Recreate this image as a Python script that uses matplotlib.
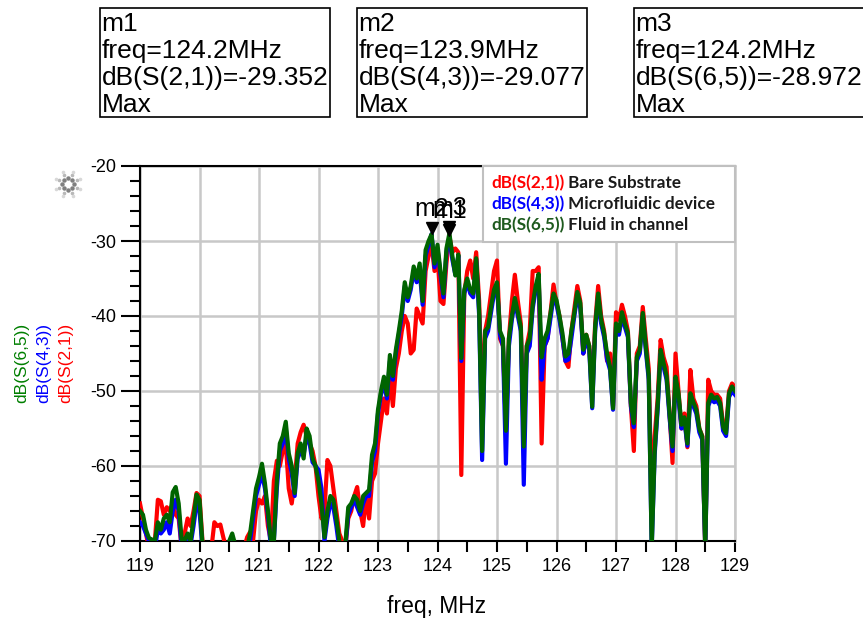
import numpy as np
import matplotlib
matplotlib.use("Agg")
import matplotlib.pyplot as plt
from matplotlib.patches import Rectangle
import matplotlib.transforms as mtransforms

plt.rcParams['font.family'] = ['Liberation Sans', 'DejaVu Sans']

# frequency axis (MHz), 0.05 MHz steps
freq = np.round(np.arange(119.0, 129.0001, 0.05), 2)

# dB(S(2,1)) Bare Substrate
s21 = [
    -65.0, -67.0, -69.0, -71.0, -71.0, -70.0, -64.5, -64.7, -66.5, -65.5,
    -66.0, -65.0, -66.5, -67.0, -71.0, -69.0, -67.0, -68.0, -66.0, -63.6,
    -64.0, -70.0, -71.0, -71.0, -71.0, -67.5, -68.0, -67.8, -69.5, -71.0,
    -71.0, -71.0, -71.0, -71.0, -71.0, -71.0, -69.5, -68.8, -70.0, -66.0,
    -64.5, -65.0, -64.0, -68.0, -70.0, -62.0, -59.3, -60.0, -58.0, -57.0,
    -63.0, -65.0, -62.0, -57.0, -55.5, -54.5, -56.0, -57.0, -58.0, -60.0,
    -64.0, -67.0, -66.0, -59.2, -60.0, -63.0, -66.0, -69.0, -70.0, -71.0,
    -67.0, -66.0, -64.0, -62.8, -66.0, -68.0, -64.0, -67.0, -62.0, -61.0,
    -57.0, -54.0, -51.0, -53.0, -48.0, -52.0, -47.0, -45.0, -42.0, -40.0,
    -41.0, -45.0, -44.5, -39.0, -40.0, -41.0, -34.0, -32.0, -30.5, -34.0,
    -32.0, -38.0, -38.4, -33.0, -29.352, -31.5, -31.0, -31.5, -61.2, -37.0,
    -34.0, -32.6, -35.0, -31.5, -38.0, -52.0, -42.0, -40.0, -37.0, -34.0,
    -32.6, -43.0, -44.0, -55.0, -43.0, -38.0, -34.5, -38.0, -41.0, -55.0,
    -44.0, -42.0, -34.0, -34.0, -33.5, -57.0, -44.0, -43.0, -39.5, -35.8,
    -38.3, -40.0, -43.0, -46.0, -46.8, -42.0, -39.0, -36.0, -38.0, -45.0,
    -42.5, -44.0, -50.0, -41.0, -36.0, -40.0, -42.0, -46.0, -45.0, -52.0,
    -39.5, -40.5, -38.5, -40.0, -42.0, -52.0, -58.0, -45.0, -44.0, -38.8,
    -43.0, -47.0, -65.0, -56.0, -51.0, -43.2, -45.5, -46.8, -53.0, -59.6,
    -45.0, -50.0, -55.0, -53.0, -57.5, -47.2, -51.0, -52.0, -55.0, -56.0,
    -71.0, -48.5, -50.0, -50.5, -50.5, -51.0, -54.5, -55.0, -50.0, -49.0,
    -49.5,
]

# dB(S(4,3)) Microfluidic device
s43 = [
    -67.5, -68.0, -69.0, -70.0, -71.0, -71.0, -68.5, -69.0, -68.5, -67.5,
    -69.0, -66.0, -64.5, -66.0, -71.0, -71.0, -70.0, -70.5, -68.0, -65.0,
    -66.0, -71.0, -71.0, -71.0, -71.0, -71.0, -71.0, -71.0, -71.0, -71.0,
    -71.0, -70.0, -71.0, -71.0, -71.0, -71.0, -71.0, -70.0, -67.0, -64.0,
    -62.5, -61.0, -63.0, -66.5, -71.0, -70.0, -63.0, -58.0, -57.0, -55.0,
    -59.0, -61.0, -64.0, -59.0, -58.0, -58.5, -56.0, -57.0, -59.5, -60.0,
    -60.5, -63.0, -70.0, -67.0, -65.0, -65.5, -68.0, -71.0, -71.0, -71.0,
    -66.5, -65.5, -64.5, -65.5, -66.5, -65.0, -64.0, -64.0, -59.5, -58.0,
    -53.0, -50.5, -49.0, -51.0, -46.0, -48.5, -45.0, -42.5, -40.0, -36.0,
    -38.0, -36.5, -34.0, -35.5, -34.0, -38.5, -32.0, -30.5, -29.077, -33.5,
    -31.0, -34.5, -37.5, -31.5, -29.5, -32.5, -34.5, -32.0, -46.0, -37.0,
    -35.5, -37.0, -37.5, -32.5, -40.0, -59.2, -43.0, -42.0, -39.5, -37.0,
    -36.0, -42.5, -44.0, -59.7, -44.0, -40.5, -38.0, -40.0, -42.0, -62.5,
    -45.0, -44.0, -39.0, -36.5, -35.0, -48.5, -44.0, -43.0, -40.2, -37.5,
    -38.4, -40.5, -43.0, -46.0, -45.8, -43.0, -40.0, -37.3, -39.0, -45.0,
    -43.0, -44.5, -52.3, -42.0, -37.5, -41.0, -42.8, -45.8, -47.2, -52.5,
    -41.5, -42.5, -40.0, -41.5, -42.8, -52.0, -54.8, -46.0, -45.0, -40.0,
    -44.5, -48.5, -71.0, -58.5, -52.5, -45.0, -46.8, -48.5, -53.5, -58.0,
    -48.5, -51.0, -55.0, -54.0, -57.3, -50.8, -52.0, -53.0, -55.5, -56.5,
    -71.0, -52.0, -51.0, -51.5, -51.3, -52.0, -55.3, -56.0, -50.8, -50.0,
    -50.5,
]

# dB(S(6,5)) Fluid in channel
s65 = [
    -66.0, -66.5, -68.5, -69.6, -69.8, -70.0, -67.5, -68.5, -67.0, -66.5,
    -67.5, -63.5, -62.8, -65.0, -69.8, -69.9, -69.0, -70.0, -67.0, -63.8,
    -64.5, -70.5, -71.0, -71.0, -71.0, -71.0, -71.0, -71.0, -71.0, -71.0,
    -70.0, -69.0, -70.5, -71.0, -71.0, -71.0, -71.0, -69.0, -66.0, -63.0,
    -61.5, -59.7, -62.3, -66.0, -70.0, -70.0, -62.0, -57.0, -56.0, -54.1,
    -58.3, -60.0, -63.6, -58.3, -57.0, -59.0, -55.0, -56.0, -59.0, -60.0,
    -62.0, -65.0, -69.5, -66.0, -64.0, -64.5, -67.0, -70.0, -71.0, -70.5,
    -65.5, -65.0, -64.0, -64.5, -66.0, -64.0, -63.6, -63.2, -58.5, -57.0,
    -52.5, -50.0, -48.1, -50.5, -45.2, -48.0, -44.5, -42.0, -39.3, -35.5,
    -37.5, -36.0, -33.4, -35.0, -33.0, -38.0, -31.2, -30.0, -29.1, -33.0,
    -30.5, -34.0, -37.0, -31.0, -28.972, -32.0, -34.6, -31.8, -45.6, -36.5,
    -35.0, -36.5, -37.0, -32.3, -39.3, -58.0, -42.0, -41.5, -38.8, -36.5,
    -35.5, -42.0, -43.0, -55.3, -43.0, -40.0, -37.6, -39.5, -41.5, -57.4,
    -44.0, -43.0, -38.5, -36.0, -34.4, -45.5, -43.0, -42.0, -39.6, -37.0,
    -37.9, -40.0, -42.3, -45.4, -45.0, -42.0, -39.6, -36.8, -38.3, -44.5,
    -42.5, -44.0, -52.1, -41.4, -37.0, -40.5, -42.3, -45.0, -46.8, -52.3,
    -41.0, -42.0, -39.5, -41.0, -42.3, -51.6, -54.3, -45.5, -44.5, -39.6,
    -44.0, -48.0, -71.0, -58.0, -52.0, -44.5, -46.3, -48.0, -53.0, -57.4,
    -48.1, -50.3, -54.5, -53.5, -57.0, -50.3, -51.5, -52.5, -55.0, -56.1,
    -71.0, -51.6, -50.5, -51.0, -50.8, -51.6, -54.8, -55.6, -50.3, -49.4,
    -50.0,
]

series_names = ['dB(S(2,1))', 'dB(S(4,3))', 'dB(S(6,5))']
series_desc = ['Bare Substrate', 'Microfluidic device', 'Fluid in channel']
marker_names = ['m1', 'm2', 'm3']
colors = ['#ff0000', '#0000ff', '#006400']
label_colors = ['#ff0000', '#0000ff', '#007f00']
legend_colors = ['#ff0000', '#0000ff', '#1e5a1e']
x_ticks = [119, 120, 121, 122, 123, 124, 125, 126, 127, 128, 129]
y_ticks = [-70, -60, -50, -40, -30, -20]

W, H = 863, 624
fig = plt.figure(figsize=(W / 100, H / 100), dpi=100)
ax = fig.add_axes([140 / W, 83 / H, 595 / W, 375 / H])

data = [np.array(s21), np.array(s43), np.array(s65)]
for d, c in zip(data, colors):
    ax.plot(freq, d, color=c, lw=3.0, solid_joinstyle='round', zorder=3)

ax.set_xlim(119, 129)
ax.set_ylim(-70, -20)
ax.set_xticks(x_ticks)
ax.set_xticklabels([str(t) for t in x_ticks])
ax.set_yticks(y_ticks)
ax.set_yticklabels([str(t) for t in y_ticks])
ax.set_xticks(np.arange(119, 129.01, 0.5), minor=True)
ax.set_yticks(np.arange(-70, -19.9, 2), minor=True)
ax.tick_params(axis='y', which='major', length=14, width=1.5, direction='out', labelsize=13, pad=3)
ax.tick_params(axis='y', which='minor', length=7, width=1.5, direction='out')
ax.tick_params(axis='x', which='both', length=8, width=1.5, direction='out', labelsize=13, pad=4)
ax.grid(True, which='major', color='#c8c8c8', lw=1.8)
ax.set_axisbelow(True)
for s in ['left', 'bottom', 'top']:
    ax.spines[s].set_linewidth(1.5)
    ax.spines[s].set_color('black')
ax.spines['right'].set_color('#c8c8c8')
ax.spines['right'].set_linewidth(1.8)

# legend box (white, covering grid)
ax.add_patch(Rectangle(((483 - 140) / 595, (541 - 242) / 375), 1 - (483 - 140) / 595,
                       1 - (541 - 242) / 375, transform=ax.transAxes,
                       facecolor='white', edgecolor='#c0c0c0', lw=1.5, zorder=4, clip_on=False))
leg_y = [183, 204, 225]
for i in range(3):
    t1 = fig.text(491 / W, 1 - leg_y[i] / H, series_names[i], color=legend_colors[i],
                  fontsize=12.3, fontweight='bold', family=['Lato', 'DejaVu Sans'],
                  ha='left', va='center', zorder=6)
    ax.annotate(' ' + series_desc[i], xy=(1, 0), xycoords=t1, va='bottom', ha='left',
                fontsize=12.3, fontweight='bold', family=['Lato', 'DejaVu Sans'],
                color='#1a1a1a', annotation_clip=False, zorder=6)

# markers at maxima
mk_trans = mtransforms.offset_copy(ax.transData, fig=fig, x=0, y=6, units='dots')
for i, d in enumerate(data):
    k = int(np.argmax(d))
    ax.plot([freq[k]], [d[k]], marker='v', color='black', markersize=9,
            transform=mk_trans, clip_on=False, zorder=7)
    ax.annotate(marker_names[i], xy=(freq[k], d[k]), xytext=(0, 18), textcoords='offset pixels',
                ha='center', va='baseline', fontsize=18, color='black', zorder=7,
                annotation_clip=False)

# marker readout boxes at top
box_left = [100, 357, 634]
box_right = [330, 587, 880]
for i, d in enumerate(data):
    k = int(np.argmax(d))
    fig.patches.append(Rectangle((box_left[i] / W, 1 - 117 / H),
                                 (box_right[i] - box_left[i]) / W, 109 / H,
                                 transform=fig.transFigure, facecolor='white',
                                 edgecolor='black', lw=1.2, figure=fig))
    lines = [marker_names[i], f"freq={freq[k]:.1f}MHz",
             f"{series_names[i]}={d[k]:.3f}", "Max"]
    for j, ln in enumerate(lines):
        fig.text((box_left[i] + 1.5) / W, 1 - (31 + 27 * j) / H, ln, fontsize=19,
                 ha='left', va='baseline', color='black')

# stacked y labels
ylab_x = [22, 44, 66]
for i, c in zip([2, 1, 0], ylab_x):
    fig.text(c / W, 1 - 363 / H, series_names[i], rotation=90, color=label_colors[i],
             fontsize=12.5, ha='center', va='center')

fig.text(437 / W, 1 - 607 / H, 'freq, MHz', fontsize=16.5, ha='center', va='center')

# small ADS logo
ang = np.linspace(0, 2 * np.pi, 8, endpoint=False)
cx, cy = 68, H - 184
fig.add_artist(plt.Line2D(cx + 6 * np.cos(ang), cy + 6 * np.sin(ang), ls='none', marker='o',
                          ms=2.2, color='#808080', transform=None))
for r, col in [(10, '#b8b8b8'), (13, '#d8d8d8')]:
    fig.add_artist(plt.Line2D(cx + r * np.cos(ang + np.pi / 8), cy + r * np.sin(ang + np.pi / 8),
                              ls='none', marker='o', ms=1.6, color=col, transform=None))

fig.savefig('out.png', dpi=100)
